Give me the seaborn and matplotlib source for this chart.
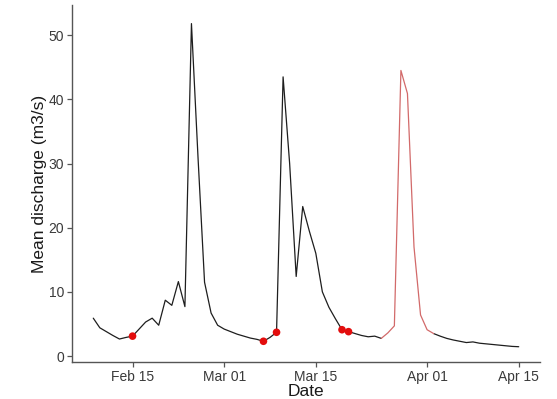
import matplotlib
matplotlib.use("Agg")
import matplotlib.pyplot as plt
import matplotlib.dates as mdates
import numpy as np
import pandas as pd
import seaborn as sns

start_date = "2019-02-09"
end_date = "2019-04-15"
discharge = [
    5.9, 4.4, 3.8, 3.2, 2.65, 2.9, 3.1, 4.2, 5.3, 5.9,      # Feb 9-18
    4.8, 8.7, 7.9, 11.6, 7.7, 51.8, 31.0, 11.5, 6.7, 4.8,   # Feb 19-28
    4.2, 3.8, 3.4, 3.1, 2.8, 2.6, 2.3, 2.9, 3.7, 43.5,      # Mar 1-10
    30.0, 12.4, 23.3, 19.5, 16.0, 10.0, 7.6, 5.8, 4.1, 3.8, # Mar 11-20
    3.5, 3.2, 3.0, 3.1, 2.75, 3.6, 4.7, 44.5, 40.9, 17.0,   # Mar 21-30
    6.4,                                                    # Mar 31
    4.1, 3.5, 3.1, 2.75, 2.5, 2.3, 2.1, 2.2, 2.0, 1.9,      # Apr 1-10
    1.8, 1.7, 1.6, 1.5, 1.45,                               # Apr 11-15
]
red_start = "2019-03-25"
red_end = "2019-04-02"
marked_dates = ["2019-02-15", "2019-03-07", "2019-03-09", "2019-03-19", "2019-03-20"]
x_ticks = ["2019-02-15", "2019-03-01", "2019-03-15", "2019-04-01", "2019-04-15"]
y_ticks = [0, 10, 20, 30, 40, 50]

dates = pd.date_range(start_date, end_date, freq="D")
df = pd.DataFrame({"Date": dates, "Q": discharge})

sns.set_theme(style="ticks")
plt.rcParams["font.family"] = ["Liberation Sans", "DejaVu Sans"]

fig = plt.figure(figsize=(5.57, 3.99), dpi=100)
ax = fig.add_axes([72 / 557, 37 / 399, (540 - 72) / 557, (362 - 5) / 399])

rs, re_ = pd.Timestamp(red_start), pd.Timestamp(red_end)
part1 = df[df["Date"] <= rs]
part2 = df[(df["Date"] >= rs) & (df["Date"] <= re_)]
part3 = df[df["Date"] >= re_]

line_kw = dict(x="Date", y="Q", ax=ax, linewidth=0.9)
sns.lineplot(data=part1, color="#1e1e1e", **line_kw)
sns.lineplot(data=part3, color="#1e1e1e", **line_kw)
sns.lineplot(data=part2, color="#d26a6a", **line_kw)

pts = df[df["Date"].isin(pd.to_datetime(marked_dates))]
sns.scatterplot(data=pts, x="Date", y="Q", ax=ax, color="#e30d0d", s=30,
                edgecolor="none", zorder=5)

span = (dates[-1] - dates[0]) * 0.05
ax.set_xlim(dates[0] - span, dates[-1] + span)
ax.set_ylim(-0.93, 54.7)

ax.set_xticks(pd.to_datetime(x_ticks))
ax.xaxis.set_major_formatter(mdates.DateFormatter("%b %d"))
ax.set_yticks(y_ticks)

for s in ["top", "right"]:
    ax.spines[s].set_visible(False)
for s in ["left", "bottom"]:
    ax.spines[s].set_color("#555555")
    ax.spines[s].set_linewidth(1.0)

ax.tick_params(axis="both", colors="#555555", length=3.5, width=0.9,
               labelsize=10, labelcolor="#3a3a3a", pad=2)
ax.set_xlabel("Date", fontsize=12.5, color="#1a1a1a", labelpad=0)
ax.set_ylabel("Mean discharge (m3/s)", fontsize=12.5, color="#1a1a1a", labelpad=1)
ax.grid(False)
ax.set_facecolor("white")
fig.patch.set_facecolor("white")

fig.savefig("out.png", dpi=100)
